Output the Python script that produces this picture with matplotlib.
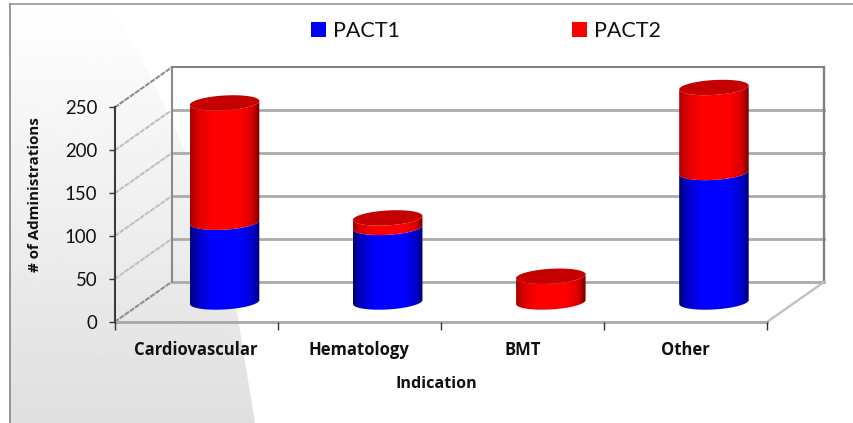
import numpy as np
import matplotlib
matplotlib.use("Agg")
import matplotlib.pyplot as plt
from matplotlib.colors import LinearSegmentedColormap
from matplotlib.patches import Patch, PathPatch, Polygon
from matplotlib.path import Path

categories = ["Cardiovascular", "Hematology", "BMT", "Other"]
pact1 = [93, 87, 0, 151]
pact2 = [139, 11, 30, 99]
y_ticks = [0, 50, 100, 150, 200, 250]

W, H = 854, 423
plt.rcParams['font.family'] = ['Lato', 'DejaVu Sans']
bold_font = ['Open Sans', 'DejaVu Sans']

fig = plt.figure(figsize=(W / 100, H / 100), dpi=100, facecolor='white')

# background shape, grey fade on the left side of the slide
bg = fig.add_axes([0, 0, 1, 1], zorder=0)
bg.set_xlim(0, W)
bg.set_ylim(H, 0)
bg.axis('off')
fade = np.linspace(1, 0.875, 256).reshape(-1, 1)
im = bg.imshow(fade, cmap='gray', vmin=0, vmax=1, extent=[0, W, H, 0], aspect='auto')
shape = Path([(10, 4), (108, 4), (190, 130), (235, 300), (255, 423), (10, 423), (10, 4)],
             [Path.MOVETO, Path.LINETO, Path.CURVE3, Path.CURVE3, Path.LINETO, Path.LINETO, Path.CLOSEPOLY])
clip = PathPatch(shape, transform=bg.transData, fc='none', ec='none')
bg.add_patch(clip)
im.set_clip_path(clip)
bg.plot([10, 10], [423, 4], color='#7f7f7f', lw=1.1)
bg.plot([10, W], [4, 4], color='#8c8c8c', lw=1.1)

# front plane of the 3d box, values in data units
ax = fig.add_axes([114.5 / W, (H - 322) / H, 652.5 / W, 214.5 / H], zorder=1)
ax.patch.set_alpha(0)
ax.set_xlim(0, 4)
ax.set_ylim(0, 250)

# shear of the box: how far the back wall sits from the front plane
depth_x = 57 / 163.1
depth_y = 40 / 0.858


def sheared(x, y, d):
    return x + d * depth_x, y + d * depth_y


# side wall + back wall + floor
for t in y_ticks:
    bx, by = sheared(0, t, 1)
    edge = t in (0, 250)
    ax.plot([0, bx], [t, by], color='#8f8f8f' if edge else '#c0c0c0', lw=1.5, clip_on=False, zorder=1,
            ls=(0, (2.5, 0.5)))
    if t < 250:
        ax.plot([bx, 4 + depth_x], [by, by], color='#ababab', lw=2.0, clip_on=False, zorder=1)
bx, by = sheared(0, 0, 1)
bx2, by2 = sheared(0, 250, 1)
ax.plot([bx, bx2], [by, by2], color='#8a8a8a', lw=1.5, clip_on=False, zorder=1)
ax.plot([bx2, bx2 + 4], [by2, by2], color='#808080', lw=1.4, clip_on=False, zorder=1)
ax.plot([bx2 + 4, bx2 + 4], [by2, by], color='#808080', lw=1.7, clip_on=False, zorder=1)
ax.plot([4, 4 + depth_x], [0, by], color='#c0c0c0', lw=1.7, clip_on=False, zorder=1)
ax.plot([0, 4], [0, 0], color='#a9a9a9', lw=2.0, clip_on=False, zorder=1)

# cylinders stand in the middle of the floor
half_w = 34.75 / 163.1
half_h = 8.7
tilt = 2.3


def front_arc(cx, cy):
    t = np.linspace(np.pi, 2 * np.pi, 40)
    return cx + half_w * np.cos(t), cy + half_h * np.sin(t) + tilt * np.cos(t)


def segment(cx, low, high, cmap, z):
    lx, ly = front_arc(cx, low)
    hx, hy = front_arc(cx, high)
    xs = np.r_[lx, hx[::-1]]
    ys = np.r_[ly, hy[::-1]]
    poly = Polygon(np.c_[xs, ys], closed=True, fc='none', ec='none', transform=ax.transData)
    ax.add_patch(poly)
    grad = ax.imshow(np.linspace(0, 1, 128).reshape(1, -1), cmap=cmap, vmin=0, vmax=1,
                     extent=[cx - half_w, cx + half_w, low - half_h - tilt, high + half_h + tilt],
                     aspect='auto', zorder=z, interpolation='bilinear')
    grad.set_clip_path(poly)
    grad.set_clip_box(fig.bbox)  # image would otherwise stop at the axes top


blue_cm = LinearSegmentedColormap.from_list(
    'b', [(0, '#000078'), (0.12, '#0000c8'), (0.32, '#0000ff'), (0.72, '#0000ff'), (0.9, '#0000d0'), (1, '#000070')])
red_cm = LinearSegmentedColormap.from_list(
    'r', [(0, '#a80000'), (0.12, '#e00000'), (0.32, '#ff0000'), (0.72, '#ff0000'), (0.9, '#d80000'), (1, '#700000')])

for i in range(len(categories)):
    cx, base = sheared(i + 0.5, 0, 0.5)
    top1 = base + pact1[i]
    top2 = top1 + pact2[i]
    if pact1[i] > 0:
        segment(cx, base, top1, blue_cm, 3)
    segment(cx, top1, top2, red_cm, 4)
    t = np.linspace(0, 2 * np.pi, 80)
    ax.fill(cx + half_w * np.cos(t), top2 + half_h * np.sin(t) + tilt * np.cos(t),
            color='#c40000', lw=0, zorder=5, clip_on=False)

ax.set_xlim(0, 4)
ax.set_ylim(0, 250)

for s in ['top', 'right', 'bottom']:
    ax.spines[s].set_visible(False)
ax.spines['left'].set_color('#3c3c3c')
ax.spines['left'].set_linewidth(1.5)
ax.set_yticks(y_ticks)
ax.tick_params(axis='y', labelsize=13.4, length=4.5, width=1, color='#333333', pad=8, labelcolor='#111111')
ax.set_xticks(range(5))
ax.set_xticklabels([])
ax.tick_params(axis='x', which='major', length=6, width=1, color='#333333')
ax.set_xticks(np.arange(4) + 0.5, minor=True)
ax.set_xticklabels(categories, minor=True, fontsize=12, fontweight='bold', color='#111111', family=bold_font)
ax.tick_params(axis='x', which='minor', length=0, pad=14)
ax.set_xlabel('Indication', fontsize=11.6, fontweight='bold', color='#111111', family=bold_font)
ax.set_ylabel('# of Administrations', fontsize=10.9, fontweight='bold', color='#111111', family=bold_font)
ax.xaxis.set_label_coords(0.4927, -0.252)
ax.yaxis.set_label_coords(-0.111, 0.592)
ax.set_zorder(2)

handles = [Patch(fc='#0000ff', ec='none', label='PACT1'), Patch(fc='#ff0000', ec='none', label='PACT2')]
fig.legend(handles=handles, ncol=2, frameon=False, fontsize=15.5, handlelength=0.72, handleheight=0.72,
           handletextpad=0.3, columnspacing=8.0, loc='center', bbox_to_anchor=(485.5 / W, 1 - 31 / H),
           labelcolor='#111111')

fig.savefig('out.png', dpi=100)
